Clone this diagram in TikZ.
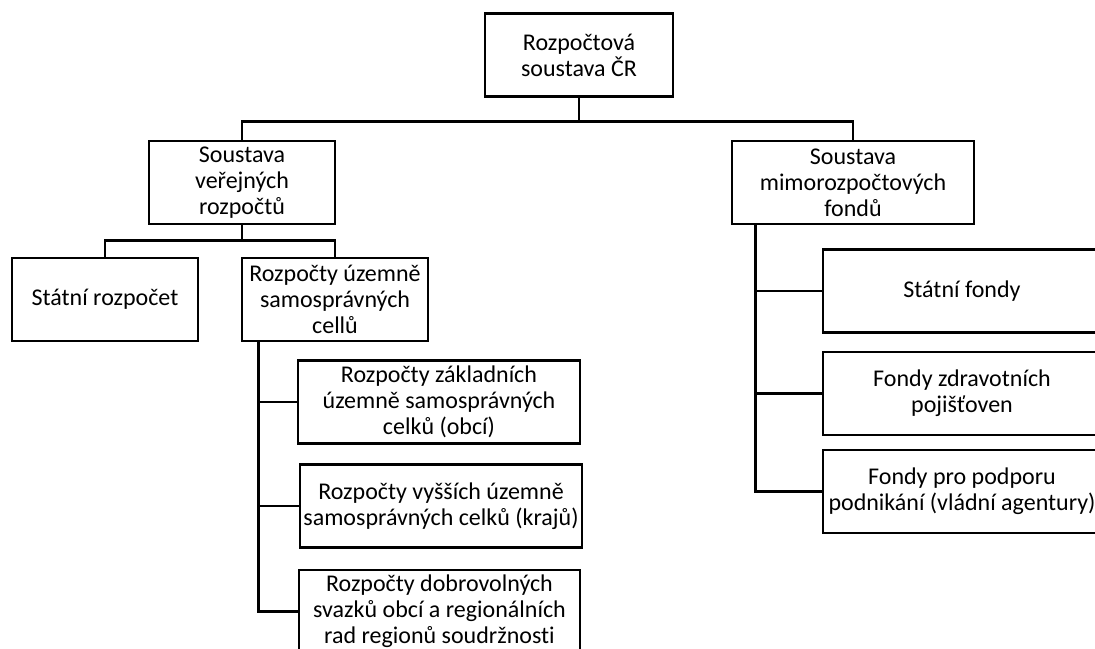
\documentclass[tikz,border=0pt]{standalone}
\usepackage{fontspec}
\setmainfont{Carlito}[Ligatures=NoCommon]

\newcommand{\px}{0.75pt}

\begin{document}
\begin{tikzpicture}[x=0.75pt,y=-0.75pt,
  box/.style={draw,line width=2.2pt,align=center,inner sep=0pt,fill=white,
    font=\fontsize{18}{19.5}\selectfont,minimum height=83*\px},
  link/.style={line width=2pt}]
  \useasboundingbox (0,0) rectangle (1095,649);
  \clip (0,0) rectangle (1095,649);
  % top level
  \node[box,minimum width=188*\px] (root) at (579,55) {Rozpočtová\\soustava ČR};
  \node[box,minimum width=186*\px] (verejne) at (242,182.5) {Soustava\\veřejných\\rozpočtů};
  \node[box,minimum width=242*\px] (mimo) at (853,182.5) {Soustava\\mimorozpočtových\\fondů};
  % public budgets
  \node[box,minimum width=186*\px] (statni) at (105,299.5) {Státní rozpočet};
  \node[box,minimum width=186*\px] (usc) at (335,299.5) {Rozpočty územně\\samosprávných\\cellů};
  \node[box,minimum width=282*\px] (obce) at (439,402) {Rozpočty základních\\územně samosprávných\\celků (obcí)};
  \node[box,minimum width=282*\px] (kraje) at (441,506) {Rozpočty vyšších územně\\samosprávných celků (krajů)};
  \node[box,minimum width=281*\px] (svazky) at (439.5,611.5) {Rozpočty dobrovolných\\svazků obcí a regionálních\\rad regionů soudržnosti};
  % extra-budgetary funds
  \node[box,minimum width=278*\px] (sfondy) at (962,291) {Státní fondy};
  \node[box,minimum width=278*\px] (zdrav) at (962,393.5) {Fondy zdravotních\\pojišťoven};
  \node[box,minimum width=278*\px] (agent) at (962,491.5) {Fondy pro podporu\\podnikání (vládní agentury)};
  % connectors
  \draw[link] (verejne.north) -- ++(0,-18) coordinate (topbus) -| (mimo.north);
  \draw[link] (root.south) -- (root.south |- topbus);
  \draw[link] (statni.north) -- ++(0,-16) coordinate (leftbus) -| (usc.north);
  \draw[link] (verejne.south) -- (verejne.south |- leftbus);
  \coordinate (usctap) at ([xshift=18*\px]usc.south west);
  \draw[link] (usctap) |- (svazky.west);
  \draw[link] (obce.west) -- (obce.west -| usctap);
  \draw[link] (kraje.west) -- (kraje.west -| usctap);
  \coordinate (mimotap) at ([xshift=25*\px]mimo.south west);
  \draw[link] (mimotap) |- (agent.west);
  \draw[link] (sfondy.west) -- (sfondy.west -| mimotap);
  \draw[link] (zdrav.west) -- (zdrav.west -| mimotap);
\end{tikzpicture}
\end{document}
